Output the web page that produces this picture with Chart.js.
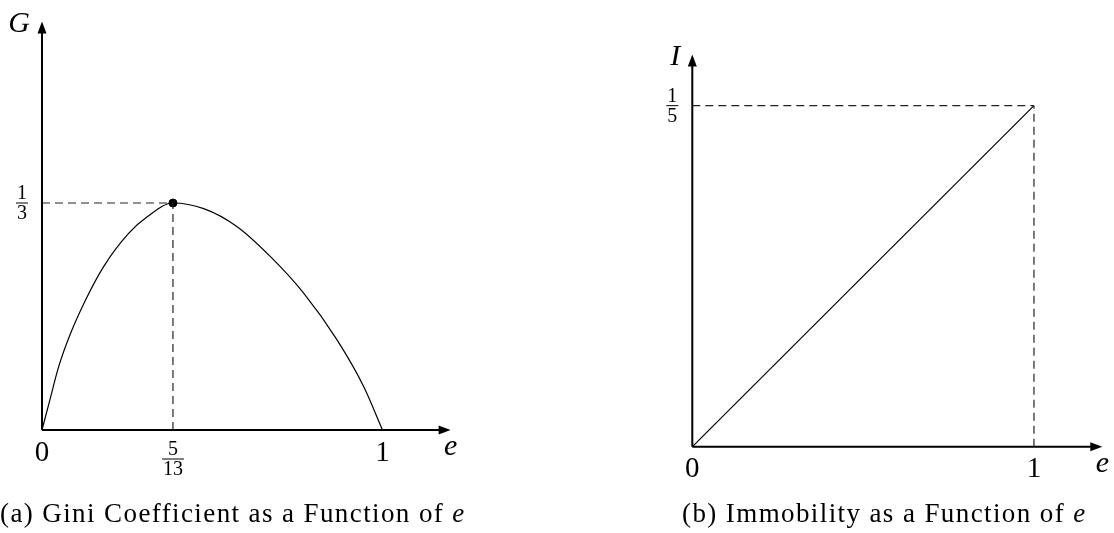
<!DOCTYPE html>
<html>
<head>
<meta charset="utf-8">
<script src="https://cdn.jsdelivr.net/npm/chart.js@4/dist/chart.umd.min.js"></script>
<style>
  html, body { margin: 0; padding: 0; background: #fff; }
  body { width: 1114px; height: 533px; position: relative; overflow: hidden; font-family: "Liberation Serif", serif; }
  canvas { position: absolute; top: 0; }
  #giniChart { left: 0; }
  #immChart { left: 557px; }
  .caption { position: absolute; top: 500px; font-size: 27px; line-height: 27px; letter-spacing: 1.4px; color: #000; white-space: nowrap; }
  .caption i { font-style: italic; }
  #capA { left: 0px; }
  #capB { left: 682px; }
</style>
</head>
<body>
<canvas id="giniChart" width="557" height="533"></canvas>
<canvas id="immChart" width="557" height="533"></canvas>
<div class="caption" id="capA">(a) Gini Coefficient as a Function of <i>e</i></div>
<div class="caption" id="capB">(b) Immobility as a Function of <i>e</i></div>

<script>
// Gini coefficient G against e
const giniE = [0, 0.023, 0.049, 0.084, 0.128, 0.181, 0.255, 0.309, 5 / 13, 0.475, 0.573, 0.671, 0.769, 0.867, 0.945, 1];
const giniG = [0, 0.044, 0.093, 0.142, 0.191, 0.240, 0.289, 0.313, 1 / 3, 0.325, 0.2985, 0.2545, 0.2007, 0.132, 0.0636, 0];
const giniPeak = [5 / 13, 1 / 3];
const giniTicksX = [0, 5 / 13, 1];
const giniLabelsX = ['0', '5/13', '1'];
const giniTicksY = [1 / 3];
const giniLabelsY = ['1/3'];

// Immobility I against e
const immE = [0, 1];
const immI = [0, 0.2];
const immTicksX = [0, 1];
const immLabelsX = ['0', '1'];
const immTicksY = [1 / 5];
const immLabelsY = ['1/5'];

const FONT = '"Liberation Serif", serif';

function toPoints(xs, ys) {
    return xs.map((v, i) => ({ x: v, y: ys[i] }));
}

function drawLabel(ctx, text, cx, cy, fracOffset) {
    ctx.textAlign = 'center';
    ctx.textBaseline = 'middle';
    if (text.indexOf('/') >= 0) {
        const [num, den] = text.split('/');
        const by = cy + fracOffset;
        ctx.font = '20px ' + FONT;
        const w = Math.max(ctx.measureText(num).width, ctx.measureText(den).width) + 2;
        ctx.fillText(num, cx, by - 9);
        ctx.fillText(den, cx, by + 11);
        ctx.fillRect(cx - w / 2, by - 0.5, w, 1);
    } else {
        ctx.font = '29px ' + FONT;
        ctx.fillText(text, cx, cy);
    }
}

// draws arrowed axes, tick labels and axis names
function axesPlugin(cfg) {
    return {
        id: 'arrowAxes',
        afterDatasetsDraw(chart) {
            const { ctx, chartArea: a, scales: { x, y } } = chart;
            const x0 = x.getPixelForValue(0);
            const y0 = y.getPixelForValue(0);
            ctx.save();
            ctx.strokeStyle = '#000';
            ctx.fillStyle = '#000';
            ctx.lineWidth = 2;

            ctx.beginPath();
            ctx.moveTo(x0, y0);
            ctx.lineTo(a.right - 8, y0);
            ctx.moveTo(x0, y0);
            ctx.lineTo(x0, a.top + 8);
            ctx.stroke();

            ctx.beginPath();
            ctx.moveTo(a.right, y0);
            ctx.lineTo(a.right - 12, y0 - 4.5);
            ctx.lineTo(a.right - 12, y0 + 4.5);
            ctx.closePath();
            ctx.fill();
            ctx.beginPath();
            ctx.moveTo(x0, a.top);
            ctx.lineTo(x0 - 4.5, a.top + 12);
            ctx.lineTo(x0 + 4.5, a.top + 12);
            ctx.closePath();
            ctx.fill();

            cfg.xTicks.forEach((v, i) => {
                drawLabel(ctx, cfg.xLabels[i], x.getPixelForValue(v), y0 + 23, 6);
            });
            cfg.yTicks.forEach((v, i) => {
                drawLabel(ctx, cfg.yLabels[i], x0 - 20, y.getPixelForValue(v), 0);
            });

            ctx.font = 'italic 30px ' + FONT;
            ctx.textAlign = 'center';
            ctx.textBaseline = 'middle';
            ctx.fillText('e', a.right, y0 + 17);
            ctx.fillText(cfg.yName, x0 + cfg.yNameDx, a.top + 3);
            ctx.restore();
        }
    };
}

const dashed = {
    borderColor: '#222',
    borderWidth: 1.2,
    borderDash: [8, 5],
    pointRadius: 0,
    showLine: true,
    fill: false
};

function baseOptions(pad, xMax, yMax) {
    return {
        responsive: false,
        animation: false,
        layout: { padding: pad },
        plugins: { legend: { display: false }, tooltip: { enabled: false } },
        scales: {
            x: { type: 'linear', min: 0, max: xMax, display: false },
            y: { type: 'linear', min: 0, max: yMax, display: false }
        }
    };
}

new Chart(document.getElementById('giniChart'), {
    type: 'scatter',
    data: {
        datasets: [
            Object.assign({ data: toPoints([0, giniPeak[0]], [giniPeak[1], giniPeak[1]]) }, dashed),
            Object.assign({ data: toPoints([giniPeak[0], giniPeak[0]], [0, giniPeak[1]]) }, dashed),
            {
                data: toPoints(giniE, giniG),
                showLine: true,
                borderColor: '#000',
                borderWidth: 1.2,
                pointRadius: 0,
                cubicInterpolationMode: 'monotone',
                fill: false
            },
            {
                data: [{ x: giniPeak[0], y: giniPeak[1] }],
                pointRadius: 4,
                backgroundColor: '#000',
                borderColor: '#000'
            }
        ]
    },
    options: baseOptions({ left: 42, right: 106.4, top: 21.4, bottom: 103 }, 1.2, 0.6),
    plugins: [axesPlugin({
        xTicks: giniTicksX, xLabels: giniLabelsX,
        yTicks: giniTicksY, yLabels: giniLabelsY,
        yName: 'G', yNameDx: -23
    })]
});

new Chart(document.getElementById('immChart'), {
    type: 'scatter',
    data: {
        datasets: [
            Object.assign({ data: toPoints([0, immE[1]], [immI[1], immI[1]]) }, dashed),
            Object.assign({ data: toPoints([immE[1], immE[1]], [0, immI[1]]) }, dashed),
            {
                data: toPoints(immE, immI),
                showLine: true,
                borderColor: '#000',
                borderWidth: 1.2,
                pointRadius: 0,
                fill: false
            }
        ]
    },
    options: baseOptions({ left: 135.3, right: 11.7, top: 54.5, bottom: 86.3 }, 1.2, 0.23),
    plugins: [axesPlugin({
        xTicks: immTicksX, xLabels: immLabelsX,
        yTicks: immTicksY, yLabels: immLabelsY,
        yName: 'I', yNameDx: -17
    })]
});
</script>
</body>
</html>
